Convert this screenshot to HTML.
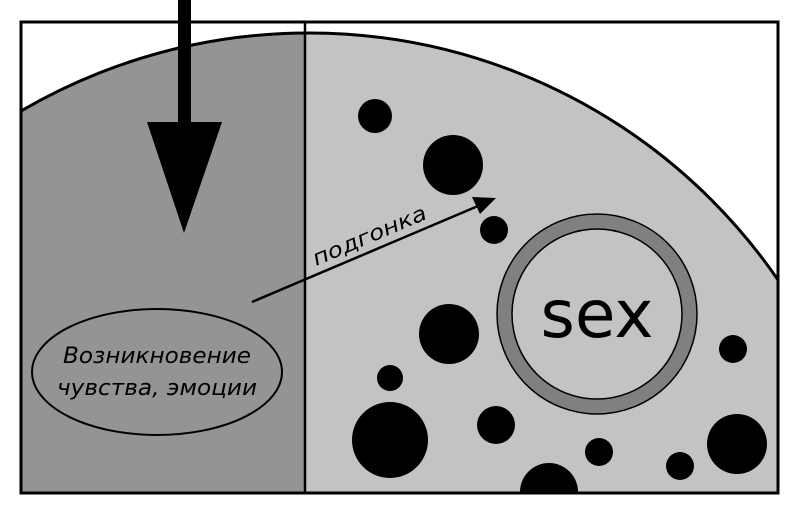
<!DOCTYPE html>
<html><head><meta charset="utf-8"><style>html,body{margin:0;padding:0;background:#fff;width:800px;height:521px;overflow:hidden}svg{display:block}</style></head>
<body>
<svg width="800" height="521" viewBox="0 0 800 521" xmlns="http://www.w3.org/2000/svg">
<defs>
<clipPath id="fr"><rect x="21" y="22" width="757" height="471"/></clipPath>
<clipPath id="lf"><rect x="21" y="22" width="284" height="471"/></clipPath>
<clipPath id="rt"><rect x="305" y="22" width="473" height="471"/></clipPath>
</defs>
<rect x="0" y="0" width="800" height="521" fill="#fff"/>
<g clip-path="url(#lf)"><circle cx="308.7" cy="602.4" r="569.4" fill="#949494"/></g>
<g clip-path="url(#rt)"><circle cx="308.7" cy="602.4" r="569.4" fill="#c3c3c3"/></g>
<g clip-path="url(#fr)">
<circle cx="308.7" cy="602.4" r="569.4" fill="none" stroke="#000" stroke-width="3"/>
<g fill="#000">
<circle cx="375" cy="116" r="17"/>
<circle cx="453" cy="165" r="30"/>
<circle cx="494" cy="230" r="14"/>
<circle cx="449" cy="334" r="30"/>
<circle cx="390" cy="378" r="13"/>
<circle cx="390" cy="440" r="38"/>
<circle cx="496" cy="425" r="19"/>
<circle cx="549" cy="492" r="29"/>
<circle cx="599" cy="452" r="14"/>
<circle cx="680" cy="466" r="14"/>
<circle cx="737" cy="444" r="30"/>
<circle cx="733" cy="349" r="14"/>
</g>
</g>
<circle cx="597" cy="314" r="92.5" fill="none" stroke="#808080" stroke-width="15"/>
<circle cx="597" cy="314" r="100" fill="none" stroke="#000" stroke-width="1.5"/>
<circle cx="597" cy="314" r="85" fill="none" stroke="#000" stroke-width="1.5"/>
<text x="597" y="337" text-anchor="middle" font-family="DejaVu Sans, Liberation Sans, sans-serif" font-size="66" fill="#000">sex</text>
<rect x="21" y="22" width="757" height="471" fill="none" stroke="#000" stroke-width="3"/>
<line x1="305" y1="22" x2="305" y2="493" stroke="#000" stroke-width="2.5"/>
<rect x="178" y="0" width="13" height="124" fill="#000"/>
<polygon points="147,122 222,122 184,233" fill="#000"/>
<ellipse cx="157" cy="372" rx="125" ry="63" fill="#949494" stroke="#000" stroke-width="2"/>
<text x="157" y="363" text-anchor="middle" font-family="DejaVu Sans, Liberation Sans, sans-serif" font-style="italic" font-size="22" textLength="188" lengthAdjust="spacingAndGlyphs" fill="#000">Возникновение</text>
<text x="157" y="395" text-anchor="middle" font-family="DejaVu Sans, Liberation Sans, sans-serif" font-style="italic" font-size="22" textLength="200" lengthAdjust="spacingAndGlyphs" fill="#000">чувства, эмоции</text>
<line x1="252" y1="302" x2="478" y2="206" stroke="#000" stroke-width="2.5"/>
<polygon points="496,198 472,197 480,214" fill="#000"/>
<text x="0" y="0" transform="translate(316,266) rotate(-23)" font-family="DejaVu Sans, Liberation Sans, sans-serif" font-style="italic" font-size="21" textLength="122" lengthAdjust="spacingAndGlyphs" fill="#000">подгонка</text>
</svg>
</body></html>
